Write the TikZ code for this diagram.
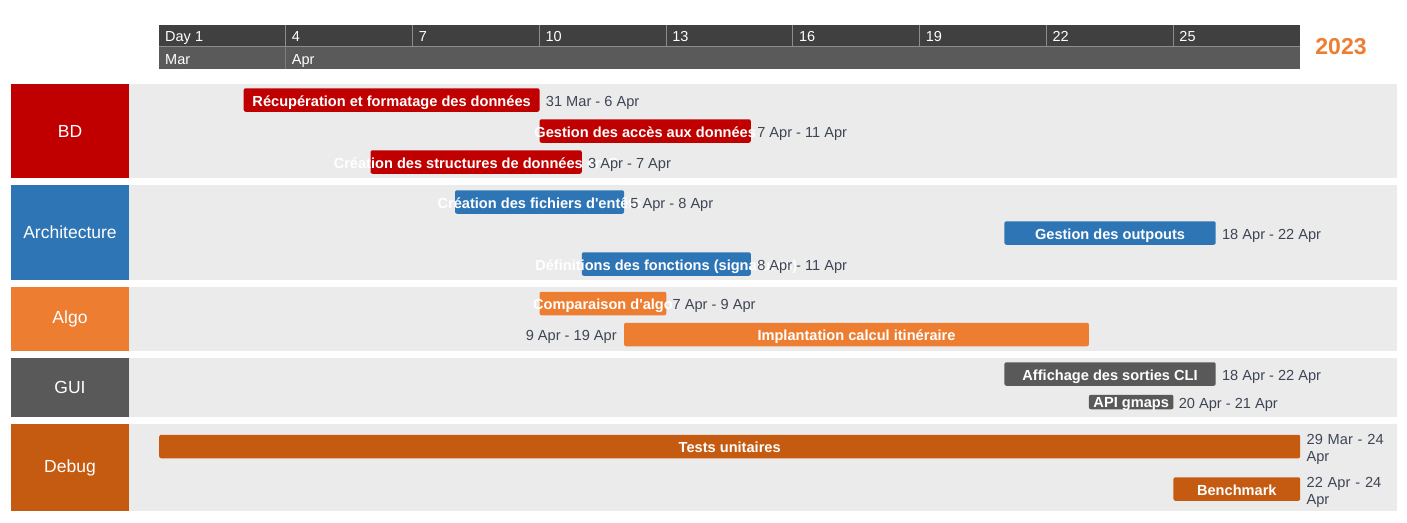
\documentclass[tikz,border=0pt]{standalone}
\usepackage{fontspec}
\setmainfont{Liberation Sans}[Ligatures=TeXOff]
\usetikzlibrary{positioning}

\definecolor{bdred}{HTML}{C00000}
\definecolor{archblue}{HTML}{2E75B6}
\definecolor{algoorange}{HTML}{ED7D31}
\definecolor{guigray}{HTML}{595959}
\definecolor{debugorange}{HTML}{C55A11}
\definecolor{lanegray}{HTML}{EBEBEB}
\definecolor{hdrdark}{HTML}{404040}
\definecolor{hdrmid}{HTML}{5A5A5A}
\definecolor{hdrline}{HTML}{8C8C8C}
\definecolor{datecol}{HTML}{3E4555}

% one day on the time axis, in pt
\newcommand{\dayw}{42.26}
\newcommand{\dayx}[1]{159+#1*\dayw}

\begin{document}
\begin{tikzpicture}[
  x=1pt, y=-1pt,
  lanebox/.style={minimum width=118pt, inner sep=0pt, text=white, font=\fontsize{17.5}{20}\selectfont},
  taskbar/.style={rounded corners=2pt, inner sep=0pt, minimum height=23.5pt, anchor=west, text=white,
    text height=14pt, text depth=2pt,
    font=\bfseries\fontsize{14.6}{16}\selectfont,
    execute at begin node=\hbox to 0pt\bgroup\hss, execute at end node=\hss\egroup},
  span/.style={minimum width=#1*\dayw*1pt},
  datelbl/.style={inner sep=0pt, text=datecol, text height=14pt, text depth=2pt, font=\fontsize{14.6}{17}\selectfont},
  datewrap/.style={datelbl, text height=, text depth=, yshift=-3pt, text width=85pt, align=left},
  hdrtext/.style={inner sep=0pt, anchor=west, text=white, text height=13.5pt, text depth=2pt, font=\fontsize{14.5}{16}\selectfont},
  sepline/.style={draw=hdrline, line width=1.5pt}
]
\useasboundingbox[fill=white] (0,0) rectangle (1407,522);

% time header
\fill[hdrdark] (159,25) rectangle (1300,46.5);
\fill[hdrmid] (159,46.5) rectangle (1300,69);
\draw[sepline] (159,46.5) -- (1300,46.5);
\foreach \i in {1,...,8} \draw[draw=hdrline, line width=1pt] ({\dayx{3*\i}},25) -- ({\dayx{3*\i}},46);
\draw[draw=hdrline!70!hdrmid, line width=1pt] ({\dayx{3}},47) -- ({\dayx{3}},69);
\foreach \lbl [count=\i from 0] in {Day 1,4,7,10,13,16,19,22,25}
  \node[hdrtext] (day\i) at ({\dayx{3*\i}+6},36) {\lbl};
\node[hdrtext] (mar) at (165,58.3) {Mar};
\node[hdrtext] (apr) at ({\dayx{3}+6},58.3) {Apr};
\node[inner sep=0pt, text=algoorange, font=\bfseries\fontsize{23}{26}\selectfont] (year) at (1341,46.5) {2023};

% lanes
\node[lanebox, fill=bdred, minimum height=94pt] (bd) at (70,131) {BD};
\node[lanebox, fill=archblue, minimum height=95pt] (arch) at (70,232.5) {Architecture};
\node[lanebox, fill=algoorange, minimum height=64pt] (algo) at (70,319) {Algo};
\node[lanebox, fill=guigray, minimum height=59pt] (gui) at (70,387.5) {GUI};
\node[lanebox, fill=debugorange, minimum height=87pt] (debug) at (70,467.5) {Debug};
\foreach \l in {bd,arch,algo,gui,debug}
  \fill[lanegray] (\l.north east) rectangle (1397,0 |- \l.south);

% BD
\node[taskbar, span=7, fill=bdred] (recup) at ({\dayx{2}},100) {Récupération et formatage des données};
\node[taskbar, span=5, fill=bdred] (acces) at ({\dayx{9}},131) {Gestion des accès aux données};
\node[taskbar, span=5, fill=bdred] (struct) at ({\dayx{5}},162) {Création des structures de données en C};
\node[datelbl, right=6pt of recup] (recupd) {31 Mar - 6 Apr};
\node[datelbl, right=6pt of acces] (accesd) {7 Apr - 11 Apr};
\node[datelbl, right=6pt of struct] (structd) {3 Apr - 7 Apr};

% Architecture
\node[taskbar, span=4, fill=archblue] (entete) at ({\dayx{7}},202) {Création des fichiers d'entête};
\node[taskbar, span=5, fill=archblue] (outputs) at ({\dayx{20}},233) {Gestion des outpouts};
\node[taskbar, span=4, fill=archblue] (signat) at ({\dayx{10}},264) {Définitions des fonctions (signatures)};
\node[datelbl, right=6pt of entete] (ented) {5 Apr - 8 Apr};
\node[datelbl, right=6pt of outputs] (outputsd) {18 Apr - 22 Apr};
\node[datelbl, right=6pt of signat] (signatd) {8 Apr - 11 Apr};

% Algo
\node[taskbar, span=3, fill=algoorange] (compar) at ({\dayx{9}},303.5) {Comparaison d'algo};
\node[taskbar, span=11, fill=algoorange] (implant) at ({\dayx{11}},334.5) {Implantation calcul itinéraire};
\node[datelbl, right=6pt of compar] (compard) {7 Apr - 9 Apr};
\node[datelbl, left=7pt of implant] (implantd) {9 Apr - 19 Apr};

% GUI
\node[taskbar, span=5, fill=guigray] (affich) at ({\dayx{20}},374) {Affichage des sorties CLI};
\node[taskbar, span=2, fill=guigray, minimum height=14.5pt, text height=12.4pt] (gmaps) at ({\dayx{22}},402) {API gmaps};
\node[datelbl, right=5pt of gmaps] (gmapsd) {20 Apr - 21 Apr};
\node[datelbl, right=6pt of affich] (affichd) {18 Apr - 22 Apr};

% Debug
\node[taskbar, span=27, fill=debugorange] (tests) at ({\dayx{0}},446.5) {Tests unitaires};
\node[taskbar, span=3, fill=debugorange] (bench) at ({\dayx{24}},489) {Benchmark};
\node[datewrap, right=6pt of tests] (testsd) {29 Mar - 24\\Apr};
\node[datewrap, right=6pt of bench] (benchd) {22 Apr - 24\\Apr};
\end{tikzpicture}
\end{document}
